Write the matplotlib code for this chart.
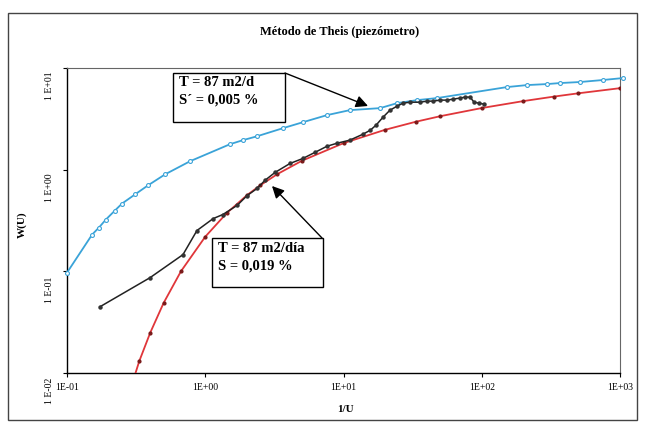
import matplotlib
matplotlib.use("Agg")
import matplotlib.pyplot as plt
from matplotlib.patches import Rectangle
import matplotlib.transforms as mtransforms

# ---- data ----
blue_x = [0.10, 0.152, 0.170, 0.191, 0.222, 0.250, 0.310, 0.385, 0.512, 0.776, 1.51, 1.87, 2.37,
          3.65, 5.09, 7.60, 11.1, 18.4, 24.4, 34.0, 47.5, 152, 212, 297, 368, 514, 754, 1047]
blue_y = [0.097, 0.230, 0.269, 0.323, 0.396, 0.464, 0.570, 0.700, 0.899, 1.21, 1.78, 1.95, 2.13,
          2.56, 2.93, 3.44, 3.85, 4.03, 4.51, 4.83, 5.06, 6.49, 6.79, 6.95, 7.11, 7.28, 7.62, 7.96]

red_x = [0.25, 0.333, 0.40, 0.50, 0.667, 1.0, 1.43, 2.0, 2.5, 3.33, 5.0, 10, 20, 33.3, 50, 100,
         200, 333, 500, 1000]
red_y = [0.00378, 0.01305, 0.0249, 0.0489, 0.100, 0.219, 0.374, 0.560, 0.702, 0.906, 1.223, 1.823,
         2.468, 2.959, 3.355, 4.038, 4.726, 5.235, 5.639, 6.332]

black_x = [0.173, 0.398, 0.690, 0.871, 1.14, 1.34, 1.70, 2.01, 2.37, 2.70, 3.20, 4.10, 5.09, 6.22,
           7.60, 8.98, 11.1, 13.8, 15.6, 17.2, 19.3, 21.7, 24.4, 26.9, 30.3, 35.7, 40.2, 44.4,
           49.9, 56.1, 62.0, 69.6, 75.7, 82.3, 88.0, 95.5, 104]
black_y = [0.0448, 0.0865, 0.146, 0.252, 0.330, 0.362, 0.445, 0.557, 0.653, 0.784, 0.940, 1.15,
           1.29, 1.48, 1.70, 1.82, 1.95, 2.23, 2.44, 2.74, 3.28, 3.85, 4.21, 4.51, 4.61, 4.61, 4.72,
           4.72, 4.83, 4.83, 4.94, 5.06, 5.17, 5.17, 4.61, 4.51, 4.41]

x_ticks = [0.1, 1, 10, 100, 1000]
x_ticklabels = ["1E-01", "1E+00", "1E+01", "1E+02", "1E+03"]
y_ticks = [0.01, 0.1, 1, 10]
y_ticklabels = ["1 E-02", "1 E-01", "1 E+00", "1 E+01"]

title = "Método de Theis (piezómetro)"
xlabel = "1/U"
ylabel = "W(U)"
box1_text = "T = 87 m2/d\nS´ = 0,005 %"
box2_text = "T = 87 m2/día\nS = 0,019 %"

# ---- figure ----
W, H = 645, 426
fig = plt.figure(figsize=(W / 100, H / 100), dpi=100)
plt.rcParams['font.family'] = ['Liberation Serif', 'DejaVu Serif']

L, R, T, B = 67, 620, 68, 373
ax = fig.add_axes([L / W, 1 - B / H, (R - L) / W, (B - T) / H])
ax.set_xscale('log')
ax.set_yscale('log')
ax.set_xlim(0.1, 1000)
ax.set_ylim(0.01, 10)

ax.plot(blue_x, blue_y, color='#3aa3d8', lw=1.3, marker='o', ms=2.8, mfc='white',
        mec='#3aa3d8', mew=0.8, zorder=3, clip_on=False)
ax.plot(red_x, red_y, color='#e0363a', lw=1.3, marker='o', ms=2.0, mfc='#7a1a1a',
        mec='#7a1a1a', zorder=3)
ax.plot(black_x, black_y, color='#222222', lw=1.1, marker='o', ms=2.2, mfc='#333333',
        mec='#333333', zorder=4)

ax.minorticks_off()
ax.set_xticks(x_ticks)
ax.set_xticklabels(x_ticklabels, fontsize=7)
ax.set_yticks(y_ticks)
ax.set_yticklabels(y_ticklabels, fontsize=7, rotation=90, va='center')
ax.tick_params(direction='out', length=3, width=0.8, pad=4)
ax.tick_params(axis='y', pad=6)
off = mtransforms.ScaledTranslation(0, -18 / 100, fig.dpi_scale_trans)
for lab in ax.get_yticklabels():
    lab.set_transform(lab.get_transform() + off)

for s in ['left', 'bottom']:
    ax.spines[s].set_color('black')
    ax.spines[s].set_linewidth(1.0)
for s in ['top', 'right']:
    ax.spines[s].set_color('#666666')
    ax.spines[s].set_linewidth(0.8)

fig.text(340 / W, 1 - 32 / H, title, ha='center', va='center', fontsize=9, fontweight='bold')
fig.text(345 / W, 1 - 409 / H, xlabel, ha='center', va='center', fontsize=8, fontweight='bold')
fig.text(22 / W, 1 - 225 / H, ylabel, ha='center', va='center', fontsize=8, fontweight='bold',
         rotation=90)

# outer chart border
fig.patches.append(Rectangle((8 / W, 1 - 420 / H), (637 - 8) / W, (420 - 13) / H,
                             transform=fig.transFigure, fill=False, ec='#444444', lw=1.0))


def ax_frac(px, py):
    return ((px - L) / (R - L), (B - py) / (B - T))


def box(x0, y0, x1, y1, text, tx, ty):
    a = ax_frac(x0, y1)
    b = ax_frac(x1, y0)
    ax.add_patch(Rectangle(a, b[0] - a[0], b[1] - a[1], transform=ax.transAxes,
                           fc='white', ec='black', lw=1.0, zorder=6, clip_on=False))
    p = ax_frac(tx, ty)
    ax.text(p[0], p[1], text, transform=ax.transAxes, ha='left', va='top', fontsize=10.5,
            fontweight='bold', linespacing=1.45, zorder=7)


box(173, 73, 285, 122, box1_text, 179, 76)
box(212, 238, 323, 287, box2_text, 218, 242)

arrow = dict(arrowstyle='-|>,head_length=0.6,head_width=0.3', color='black', lw=1.0,
             shrinkA=0, shrinkB=0, mutation_scale=12)
ax.annotate('', xy=ax_frac(368, 106), xytext=ax_frac(285, 73), xycoords='axes fraction',
            textcoords='axes fraction', arrowprops=arrow, zorder=8)
ax.annotate('', xy=ax_frac(272, 186), xytext=ax_frac(322, 238), xycoords='axes fraction',
            textcoords='axes fraction', arrowprops=arrow, zorder=8)

fig.savefig('out.png', dpi=100)
